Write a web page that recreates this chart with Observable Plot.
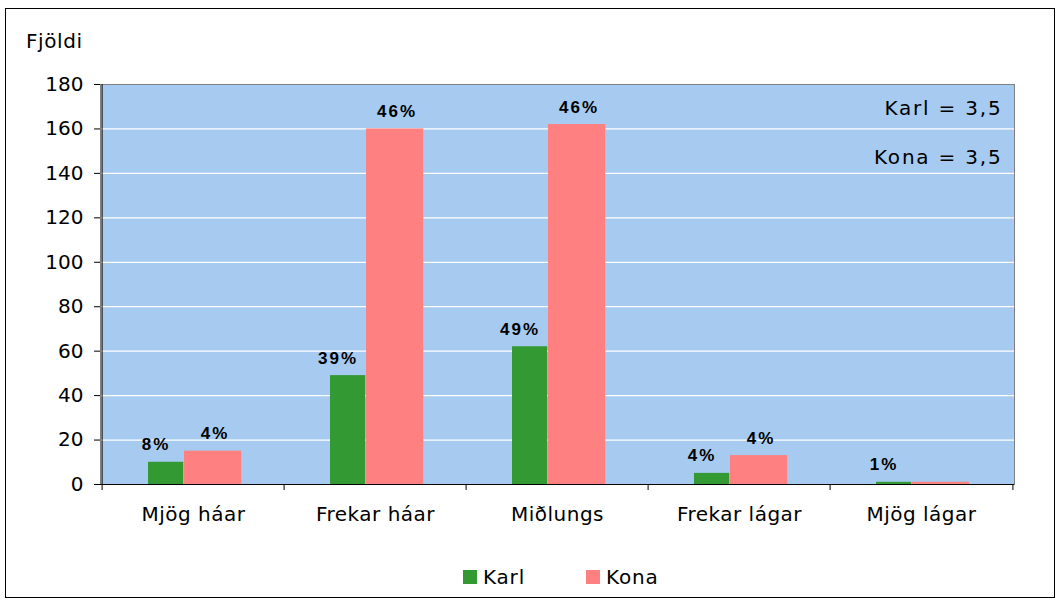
<!DOCTYPE html>
<html>
<head>
<meta charset="utf-8">
<script src="https://cdn.jsdelivr.net/npm/d3@7"></script>
<script src="https://cdn.jsdelivr.net/npm/@observablehq/plot@0.6"></script>
<style>
  html, body { margin: 0; padding: 0; background: #fff; }
  #wrap { position: relative; width: 1063px; height: 607px; font-family: "DejaVu Sans", Verdana, sans-serif; color: #000; overflow: hidden; }
  #border { position: absolute; left: 5px; top: 8px; width: 1050px; height: 590px; border: 1px solid #000; box-sizing: border-box; }
  #chart { position: absolute; left: 0; top: 0; }
  #ylabel { position: absolute; left: 26px; top: 29px; font-size: 20px; letter-spacing: 0.6px; }
  #legend { position: absolute; left: 463px; top: 565px; font-size: 20px; letter-spacing: 0.8px; display: flex; align-items: center; line-height: 24px; }
  #legend .sw { width: 14px; height: 14px; display: inline-block; margin-right: 6px; }
  #legend .item { display: flex; align-items: center; width: 123px; }
</style>
</head>
<body>
<div id="wrap">
  <div id="border"></div>
  <div id="chart"></div>
  <div id="ylabel">Fjöldi</div>
  <div id="legend"></div>
</div>
<script>
// ---- data ----
const categories = ["Mjög háar", "Frekar háar", "Miðlungs", "Frekar lágar", "Mjög lágar"];
const karl = [10, 49, 62, 5, 1];
const kona = [15, 160, 162, 13, 1];
const karlPct = ["8%", "39%", "49%", "4%", "1%"];
const konaPct = ["4%", "46%", "46%", "4%", ""];
const yTicks = [0, 20, 40, 60, 80, 100, 120, 140, 160, 180];
const seriesNames = ["Karl", "Kona"];
const notes = ["Karl = 3,5", "Kona = 3,5"];

// ---- styles ----
const colors = {Karl: "#339933", Kona: "#FF8080"};
const W = 1063, H = 540, mL = 100, mR = 49, mT = 84, mB = 56;
const bw = (W - mL - mR) / categories.length;
const pctFont = "'Liberation Sans', Arial, sans-serif";

const rows = categories.map((c, i) => ({category: c, karl: karl[i], kona: kona[i], karlPct: karlPct[i], konaPct: konaPct[i]}));

const chart = Plot.plot({
  width: W, height: H,
  marginLeft: mL, marginRight: mR, marginTop: mT, marginBottom: mB,
  style: {fontFamily: "'DejaVu Sans', Verdana, sans-serif", fontSize: "20px", color: "#000", background: "transparent", overflow: "visible"},
  x: {domain: categories, padding: 0, label: null},
  y: {domain: [0, 180], label: null},
  marks: [
    Plot.frame({fill: "#A6CAF0"}),
    Plot.gridY(yTicks, {stroke: "#fff", strokeOpacity: 1, strokeWidth: 1.2}),
    Plot.barY(rows, {x: "category", y: "karl", fill: colors.Karl, insetLeft: 46, insetRight: bw - 82}),
    Plot.barY(rows, {x: "category", y: "kona", fill: colors.Kona, insetLeft: 82, insetRight: bw - 140}),
    Plot.frame({stroke: "#808080"}),
    Plot.ruleY([0], {stroke: "#000"}),
    Plot.ruleX(categories.slice(0, 1), {x: d => d, dx: -bw / 2, stroke: "#000"}),
    Plot.ruleX(categories, {x: d => d, dx: -bw / 2, y1: 0, y2: 0, insetTop: 6, stroke: "#000"}),
    Plot.ruleX(categories.slice(-1), {x: d => d, dx: bw / 2, y1: 0, y2: 0, insetTop: 6, stroke: "#000"}),
    Plot.axisY({ticks: yTicks, tickSize: 6, tickPadding: 11, fontSize: 20, stroke: "#000"}),
    Plot.axisX({tickSize: 0, tickPadding: 22, fontSize: 20}),
    Plot.text(rows, {x: "category", y: "karl", text: "karlPct", dx: 64 - bw / 2 - 10, dy: -12, lineAnchor: "bottom", fontWeight: "bold", fontSize: 17, fontFamily: pctFont}),
    Plot.text(rows, {x: "category", y: "kona", text: "konaPct", dx: 111 - bw / 2 + 2, dy: -12, lineAnchor: "bottom", fontWeight: "bold", fontSize: 17, fontFamily: pctFont}),
    Plot.text(notes.slice(0, 1), {text: d => d, frameAnchor: "top-right", dx: -12, dy: 24, lineAnchor: "middle", textAnchor: "end", fontSize: 20}),
    Plot.text(notes.slice(1, 2), {text: d => d, frameAnchor: "top-right", dx: -12, dy: 73, lineAnchor: "middle", textAnchor: "end", fontSize: 20})
  ]
});
const svg = d3.select(chart);
const allPct = new Set([...karlPct, ...konaPct].filter(d => d));
svg.selectAll("text").each(function () {
  const t = this.textContent;
  if (allPct.has(t)) this.setAttribute("letter-spacing", "2");
  else if (notes.includes(t)) this.setAttribute("letter-spacing", "1.8");
  else if (categories.includes(t)) this.setAttribute("letter-spacing", "0.5");
});
document.getElementById("chart").appendChild(chart);

const legend = document.getElementById("legend");
seriesNames.forEach(s => {
  const item = document.createElement("div");
  item.className = "item";
  const sw = document.createElement("span");
  sw.className = "sw";
  sw.style.background = colors[s];
  const t = document.createElement("span");
  t.textContent = s;
  item.appendChild(sw);
  item.appendChild(t);
  legend.appendChild(item);
});
</script>
</body>
</html>
